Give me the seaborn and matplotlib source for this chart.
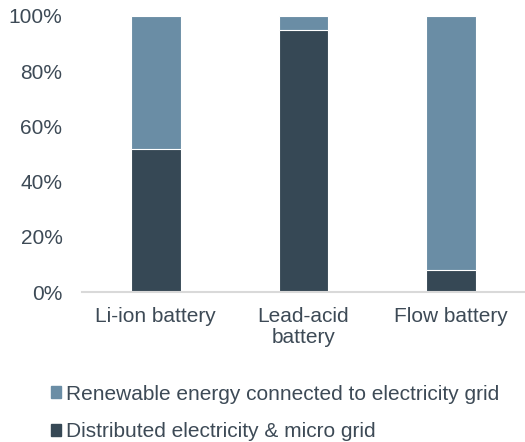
import numpy as np
import pandas as pd
import seaborn as sns
import matplotlib.pyplot as plt
from matplotlib.ticker import PercentFormatter
from matplotlib.patches import Patch

categories = ['Li-ion battery', 'Lead-acid\nbattery', 'Flow battery']
distributed = [52, 95, 8]
renewable = [48, 5, 92]
series_names = ['Distributed electricity & micro grid',
                'Renewable energy connected to electricity grid']

dark = '#364855'
light = '#6a8da5'
txt = '#3d4a56'

sns.set_style('white')
plt.rcParams['font.family'] = ['Liberation Sans', 'DejaVu Sans']

df = pd.DataFrame({'cat': categories, 'dist': distributed, 'ren': renewable})
df['total'] = df['dist'] + df['ren']

fig = plt.figure(figsize=(5.25, 4.42), dpi=100)
ax = fig.add_axes([0.156, 0.339, 0.844, 0.625])

# stacked: draw total first (light), then the bottom part (dark) over it
sns.barplot(data=df, x='cat', y='total', color=light, width=0.337,
            saturation=1, edgecolor='white', linewidth=0.8, ax=ax)
sns.barplot(data=df, x='cat', y='dist', color=dark, width=0.337,
            saturation=1, edgecolor='white', linewidth=0.8, ax=ax)

ax.set_ylim(0, 100)
ax.set_xlim(-0.5, 2.5)
ax.set_yticks(np.arange(0, 101, 20))
ax.yaxis.set_major_formatter(PercentFormatter(decimals=0))
ax.set_xlabel('')
ax.set_ylabel('')
for s in ['top', 'right', 'left']:
    ax.spines[s].set_visible(False)
ax.spines['bottom'].set_color('#d9d9d9')
ax.spines['bottom'].set_linewidth(1.5)
ax.tick_params(axis='both', length=0, labelsize=15, colors=txt)
ax.tick_params(axis='x', pad=11)
ax.tick_params(axis='y', pad=14)
for t in ax.get_xticklabels():
    t.set_linespacing(1.12)

handles = [Patch(color=light), Patch(color=dark)]
leg = fig.legend(handles, [series_names[1], series_names[0]],
                 loc='upper left', bbox_to_anchor=(0.097, 0.13),
                 frameon=False, fontsize=15, handlelength=0.48, handleheight=0.48,
                 handletextpad=0.25, labelspacing=0.9, borderaxespad=0,
                 borderpad=0)
for t in leg.get_texts():
    t.set_color(txt)

fig.savefig('out.png', dpi=100)
